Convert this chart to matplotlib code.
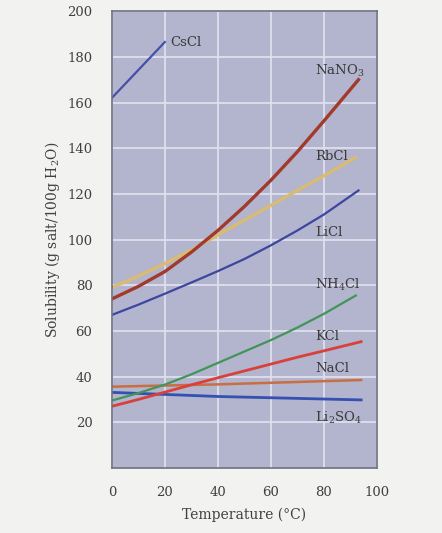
import numpy as np
import matplotlib
matplotlib.use("Agg")
import matplotlib.pyplot as plt

# Solubility curves (temperature in C, g salt / 100 g water)
cscl_t = [0, 20]
cscl_s = [162, 186.5]

nano3_t = [0, 10, 20, 30, 40, 50, 60, 70, 80, 93]
nano3_s = [74, 79.5, 86, 94.5, 104, 114.5, 126, 138.5, 152, 170]

rbcl_t = [0, 10, 20, 30, 40, 50, 60, 70, 80, 92]
rbcl_s = [79, 84, 89.5, 95.5, 102, 108.5, 115, 121.5, 128, 136]

licl_t = [0, 10, 20, 30, 40, 50, 60, 70, 80, 93]
licl_s = [67, 71.5, 76.3, 81.2, 86.2, 91.5, 97.5, 104, 111, 121.5]

nh4cl_t = [0, 10, 20, 30, 40, 50, 60, 70, 80, 92]
nh4cl_s = [29.5, 32.8, 36.5, 41, 46, 51, 56, 61.5, 67.5, 75.5]

kcl_t = [0, 10, 20, 30, 40, 50, 60, 70, 80, 94]
kcl_s = [27, 30, 33.2, 36.4, 39.5, 42.5, 45.5, 48.5, 51.3, 55.3]

nacl_t = [0, 40, 94]
nacl_s = [35.6, 36.6, 38.5]

li2so4_t = [0, 40, 94]
li2so4_s = [33.1, 31.3, 29.8]

curve_labels = ["CsCl", "NaNO$_3$", "RbCl", "LiCl", "NH$_4$Cl", "KCl", "NaCl", "Li$_2$SO$_4$"]
label_x = [22, 76.6, 76.6, 76.6, 76.6, 76.6, 76.6, 76.6]
label_y = [186.5, 174, 136.5, 103, 80, 57.7, 43.6, 22]

x_ticks = [0, 20, 40, 60, 80, 100]
y_ticks = [20, 40, 60, 80, 100, 120, 140, 160, 180, 200]

plt.rcParams["font.family"] = ["DejaVu Serif"]
plt.rcParams["mathtext.fontset"] = "dejavuserif"

fig = plt.figure(figsize=(4.42, 5.33), dpi=100, facecolor="#f2f2f0")
ax = fig.add_axes([0.253, 0.122, 0.600, 0.857])
ax.set_facecolor("#b3b4cd")

ax.grid(True, color="#dfe0ec", linewidth=1.3)
ax.set_axisbelow(True)

ax.plot(cscl_t, cscl_s, color="#4550a8", lw=1.6)
ax.plot(licl_t, licl_s, color="#3d46a0", lw=1.6)
ax.plot(rbcl_t, rbcl_s, color="#d9bb72", lw=2.4)
ax.plot(nano3_t, nano3_s, color="#a23a2c", lw=2.4)
ax.plot(nacl_t, nacl_s, color="#c96e42", lw=1.8)
ax.plot(li2so4_t, li2so4_s, color="#3450b0", lw=2.0)
ax.plot(nh4cl_t, nh4cl_s, color="#3f9658", lw=1.6)
ax.plot(kcl_t, kcl_s, color="#d9403a", lw=2.0)

for lab, lx, ly in zip(curve_labels, label_x, label_y):
    ax.text(lx, ly, lab, fontsize=9.5, color="#3a3a3a", va="center", ha="left")

ax.set_xlim(0, 100)
ax.set_ylim(0, 200)
ax.set_xticks(x_ticks)
ax.set_yticks(y_ticks)
ax.tick_params(length=0, labelsize=9.5, colors="#404040")
ax.tick_params(axis="x", pad=13)
ax.tick_params(axis="y", pad=14)

for sp in ax.spines.values():
    sp.set_color("#6e6f80")
    sp.set_linewidth(1.2)

ax.set_xlabel("Temperature (°C)", fontsize=10, color="#404040", labelpad=6)
ax.set_ylabel("Solubility (g salt/100g H$_2$O)", fontsize=10, color="#404040", labelpad=4)

fig.savefig("out.png", dpi=100, facecolor=fig.get_facecolor())
